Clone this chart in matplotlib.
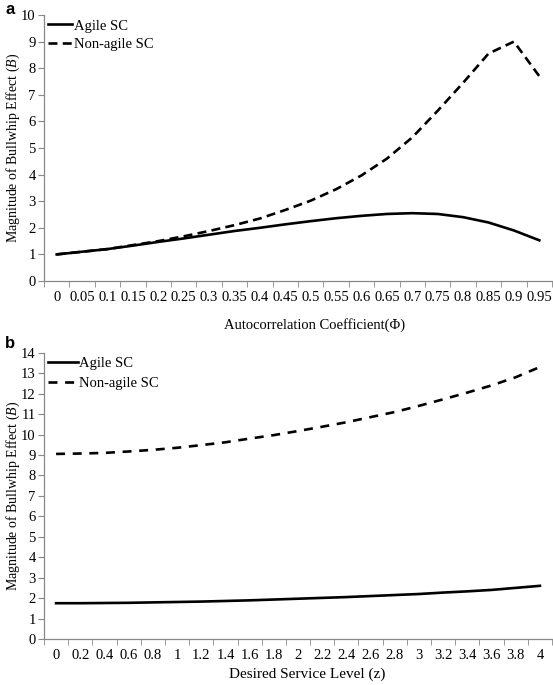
import matplotlib
matplotlib.use("Agg")
import matplotlib.pyplot as plt
import numpy as np

plt.rcParams['font.family'] = ['Liberation Serif', 'DejaVu Serif']
plt.rcParams['mathtext.fontset'] = 'custom'
plt.rcParams['mathtext.it'] = 'Liberation Serif:italic'
plt.rcParams['mathtext.rm'] = 'Liberation Serif'

# Panel a data
phi_labels = ["0", "0.05", "0.1", "0.15", "0.2", "0.25", "0.3", "0.35", "0.4", "0.45",
              "0.5", "0.55", "0.6", "0.65", "0.7", "0.75", "0.8", "0.85", "0.9", "0.95"]
agile_a = [1.0, 1.1, 1.2, 1.33, 1.47, 1.6, 1.74, 1.88, 2.0, 2.13,
           2.25, 2.36, 2.45, 2.52, 2.55, 2.52, 2.4, 2.2, 1.9, 1.53]
nonagile_a = [1.0, 1.1, 1.2, 1.35, 1.5, 1.68, 1.88, 2.1, 2.35, 2.67,
              3.02, 3.45, 3.97, 4.6, 5.4, 6.4, 7.45, 8.55, 9.0, 7.7]

# Panel b data
z_labels = ["0", "0.2", "0.4", "0.6", "0.8", "1", "1.2", "1.4", "1.6", "1.8", "2",
            "2.2", "2.4", "2.6", "2.8", "3", "3.2", "3.4", "3.6", "3.8", "4"]
agile_b = [1.75, 1.75, 1.76, 1.77, 1.79, 1.81, 1.83, 1.86, 1.89, 1.93, 1.97,
           2.01, 2.05, 2.1, 2.15, 2.2, 2.27, 2.33, 2.4, 2.5, 2.6]
nonagile_b = [9.05, 9.07, 9.1, 9.17, 9.25, 9.35, 9.48, 9.62, 9.8, 9.97, 10.17,
              10.38, 10.6, 10.85, 11.1, 11.4, 11.72, 12.05, 12.4, 12.8, 13.3]

W, H = 553, 685
fig = plt.figure(figsize=(W / 100, H / 100), dpi=100)

def make_axes(l, r, top, bot):
    return fig.add_axes([l / W, (H - bot) / H, (r - l) / W, (bot - top) / H])

ax1 = make_axes(44, 552, 15, 281)
ax2 = make_axes(44, 552, 352.7, 639)

ylabel = r"Magnitude of Bullwhip Effect ($\mathit{B}$)"

def style(ax, labels, agile, nonagile, ymax, xlabel, xfs, dash, hlen, lspace):
    n = len(labels)
    x = np.arange(n)
    ax.plot(x, agile, color='black', lw=1.9, label='Agile SC')
    ax.plot(x, nonagile, color='black', lw=1.9, linestyle=dash, label='Non-agile SC')
    ax.set_xlim(-0.5, n - 0.5)
    ax.set_ylim(0, ymax)
    ax.set_yticks(range(0, ymax + 1))
    ax.set_xticks(x)
    ax.set_xticklabels(labels)
    ax.set_xticks(np.arange(n + 1) - 0.5, minor=True)
    ax.tick_params(axis='x', which='major', length=0, pad=7, labelsize=10.5)
    ax.tick_params(axis='x', which='minor', length=4, direction='out', color='#888888')
    ax.tick_params(axis='y', length=4, direction='out', labelsize=10.5, pad=2, color='#888888')
    for s in ['top', 'right']:
        ax.spines[s].set_visible(False)
    for s in ['left', 'bottom']:
        ax.spines[s].set_color('#888888')
        ax.spines[s].set_linewidth(0.9)
    ax.set_xlabel(xlabel, fontsize=xfs)
    ax.set_ylabel(ylabel, fontsize=10, va='center')
    ax.yaxis.set_label_coords(-31 / 508, 0.5)
    ax.legend(loc='upper left', frameon=False, fontsize=10.5, handlelength=hlen,
              handletextpad=0.1, borderaxespad=0.2, labelspacing=lspace,
              borderpad=0.1)

style(ax1, phi_labels, agile_a, nonagile_a, 10, "Autocorrelation Coefficient(Φ)", 10.5,
      (0, (3.4, 2.0)), 1.65, 0.35)
style(ax2, z_labels, agile_b, nonagile_b, 14, "Desired Service Level (z)", 11,
      (0, (3.4, 2.9)), 2.0, 0.45)
ax1.xaxis.set_label_coords((315 - 44) / 508, -37 / 266)
ax2.xaxis.set_label_coords((307 - 44) / 508, -29 / 286.3)

fig.text(5 / W, 1 - 9 / H, "a", fontfamily='Liberation Sans', fontweight='bold', fontsize=12, va='center')
fig.text(5 / W, 1 - 344 / H, "b", fontfamily='Liberation Sans', fontweight='bold', fontsize=12, va='center')

fig.savefig("out.png", dpi=100)
